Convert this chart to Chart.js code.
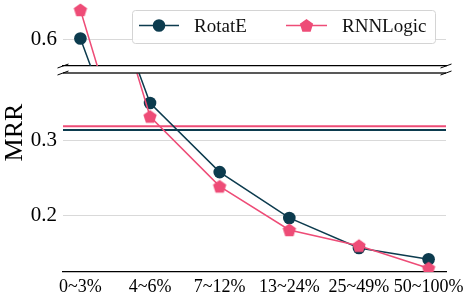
<!DOCTYPE html>
<html>
<head>
<meta charset="utf-8">
<script src="https://cdn.jsdelivr.net/npm/chart.js@4.4.0/dist/chart.umd.min.js"></script>
<style>
  html, body { margin: 0; padding: 0; background: #fff; }
  #wrap { position: relative; width: 464px; height: 294px; }
  #wrap canvas { position: absolute; left: 0; top: 0; }
</style>
</head>
<body>
<div id="wrap">
  <canvas id="bottomChart" width="464" height="294"></canvas>
  <canvas id="topChart" width="464" height="294"></canvas>
</div>
<script>
// data
const categories = ['0~3%', '4~6%', '7~12%', '13~24%', '25~49%', '50~100%'];
const rotatE = [0.602, 0.350, 0.258, 0.197, 0.157, 0.142];
const rnnLogic = [0.640, 0.332, 0.239, 0.181, 0.160, 0.130];
const rotatEAll = 0.314;
const rnnLogicAll = 0.319;
const topTicks = [0.6];
const bottomTicks = [0.2, 0.3];

const darkColor = '#0c3b4e';
const pinkColor = '#ee4c77';
const serif = "'Liberation Serif', 'Times New Roman', serif";

function pentagonPath(ctx, cx, cy, r) {
  ctx.beginPath();
  for (let i = 0; i < 5; i++) {
    const a = -Math.PI / 2 + i * 2 * Math.PI / 5;
    const px = cx + r * Math.cos(a), py = cy + r * Math.sin(a);
    if (i) ctx.lineTo(px, py); else ctx.moveTo(px, py);
  }
  ctx.closePath();
}

// pentagon marker (no built-in style for it)
const pentagon = document.createElement('canvas');
pentagon.width = 18;
pentagon.height = 18;
{
  const c = pentagon.getContext('2d');
  pentagonPath(c, 9, 9.5, 7);
  c.fillStyle = pinkColor;
  c.fill();
}

const xy = vals => vals.map((v, i) => ({ x: i, y: v }));
const span = [-0.25, 5.25];

function seriesSets() {
  return [
    { label: 'RNNLogic', data: xy(rnnLogic), borderColor: pinkColor, backgroundColor: pinkColor,
      pointStyle: pentagon, borderWidth: 1.5, order: 0 },
    { label: 'RotatE', data: xy(rotatE), borderColor: darkColor, backgroundColor: darkColor,
      pointStyle: 'circle', pointRadius: 6.3, pointBorderWidth: 0, borderWidth: 1.5, order: 1 }
  ];
}

function breakMarks(ctx, y, left, right) {
  ctx.save();
  ctx.strokeStyle = '#000';
  ctx.lineWidth = 1;
  [left, right].forEach(x => {
    ctx.beginPath();
    ctx.moveTo(x - 5.5, y + 2);
    ctx.lineTo(x + 5.5, y - 2);
    ctx.stroke();
  });
  ctx.restore();
}

const xBase = {
  type: 'linear',
  min: span[0],
  max: span[1],
  grid: { display: false, drawTicks: false },
  border: { display: true, color: '#000', width: 1.3 },
  afterBuildTicks: s => { s.ticks = categories.map((c, i) => ({ value: i })); }
};

function yAxis(min, max, tickVals) {
  return {
    min: min,
    max: max,
    afterBuildTicks: s => { s.ticks = tickVals.map(v => ({ value: v })); },
    afterFit: s => { s.width = 63; s.paddingTop = 0; s.paddingBottom = 0; },
    grid: { color: '#d9d9d9', lineWidth: 1, drawTicks: false },
    border: { display: false },
    ticks: { color: '#000', padding: 6, font: { family: serif, size: 21 },
             callback: v => v.toFixed(1) }
  };
}

const bottomDecor = {
  id: 'bottomDecor',
  afterDraw(chart) {
    const { ctx, chartArea } = chart;
    ctx.save();
    ctx.strokeStyle = '#222';
    ctx.lineWidth = 1.3;
    ctx.beginPath();
    ctx.moveTo(chartArea.left, chartArea.top);
    ctx.lineTo(chartArea.right, chartArea.top);
    ctx.stroke();
    // y title
    ctx.translate(21.5, 132.5);
    ctx.rotate(-Math.PI / 2);
    ctx.fillStyle = '#000';
    ctx.font = '26px ' + serif;
    ctx.textAlign = 'center';
    ctx.textBaseline = 'alphabetic';
    ctx.fillText('MRR', 0, 0);
    ctx.restore();
    breakMarks(ctx, chartArea.top, chartArea.left, chartArea.right);
  }
};

const topDecor = {
  id: 'topDecor',
  afterDraw(chart) {
    const { ctx, chartArea } = chart;
    breakMarks(ctx, chartArea.bottom, chartArea.left, chartArea.right);
    // legend
    ctx.save();
    ctx.beginPath();
    ctx.roundRect(132.5, 10.5, 303, 33, 3);
    ctx.fillStyle = 'rgba(255,255,255,0.9)';
    ctx.fill();
    ctx.strokeStyle = '#d4d4d4';
    ctx.lineWidth = 1;
    ctx.stroke();

    const ly = 25.5;
    ctx.lineWidth = 1.5;
    ctx.strokeStyle = darkColor;
    ctx.beginPath(); ctx.moveTo(139, ly); ctx.lineTo(179, ly); ctx.stroke();
    ctx.fillStyle = darkColor;
    ctx.beginPath(); ctx.arc(159, ly, 6.3, 0, Math.PI * 2); ctx.fill();

    ctx.strokeStyle = pinkColor;
    ctx.beginPath(); ctx.moveTo(286, ly); ctx.lineTo(327, ly); ctx.stroke();
    ctx.fillStyle = pinkColor;
    pentagonPath(ctx, 306.5, ly + 0.5, 7);
    ctx.fill();

    ctx.fillStyle = '#111';
    ctx.font = '19px ' + serif;
    ctx.textBaseline = 'alphabetic';
    ctx.textAlign = 'left';
    ctx.fillText('RotatE', 194, 32);
    ctx.fillText('RNNLogic', 342, 32);
    ctx.restore();
  }
};

// lower panel
new Chart(document.getElementById('bottomChart'), {
  type: 'line',
  data: {
    datasets: seriesSets().concat([
      { label: 'RNNLogic all', data: span.map(x => ({ x: x, y: rnnLogicAll })), borderColor: pinkColor,
        borderWidth: 2, pointRadius: 0, order: 2 },
      { label: 'RotatE all', data: span.map(x => ({ x: x, y: rotatEAll })), borderColor: darkColor,
        borderWidth: 2, pointRadius: 0, order: 3 }
    ])
  },
  options: {
    responsive: false,
    animation: false,
    devicePixelRatio: 1,
    layout: { autoPadding: false, padding: { top: 73, right: 18, left: 0, bottom: 0 } },
    plugins: { legend: { display: false }, tooltip: { enabled: false } },
    scales: {
      x: Object.assign({}, xBase, {
        afterFit: s => { s.height = 22; s.paddingLeft = 0; s.paddingRight = 0; },
        ticks: { color: '#000', padding: 4, autoSkip: false, maxRotation: 0,
                 font: { family: serif, size: 18 }, callback: v => categories[v] }
      }),
      y: yAxis(0.125, 0.39, bottomTicks)
    }
  },
  plugins: [bottomDecor]
});

// upper panel
new Chart(document.getElementById('topChart'), {
  type: 'line',
  data: { datasets: seriesSets() },
  options: {
    responsive: false,
    animation: false,
    devicePixelRatio: 1,
    layout: { autoPadding: false, padding: { top: 0, right: 18, left: 0, bottom: 228 } },
    plugins: { legend: { display: false }, tooltip: { enabled: false } },
    scales: {
      x: Object.assign({}, xBase, {
        afterFit: s => { s.height = 0; s.paddingLeft = 0; s.paddingRight = 0; },
        ticks: { display: false }
      }),
      y: yAxis(0.5653, 0.6533, topTicks)
    }
  },
  plugins: [topDecor]
});
</script>
</body>
</html>
